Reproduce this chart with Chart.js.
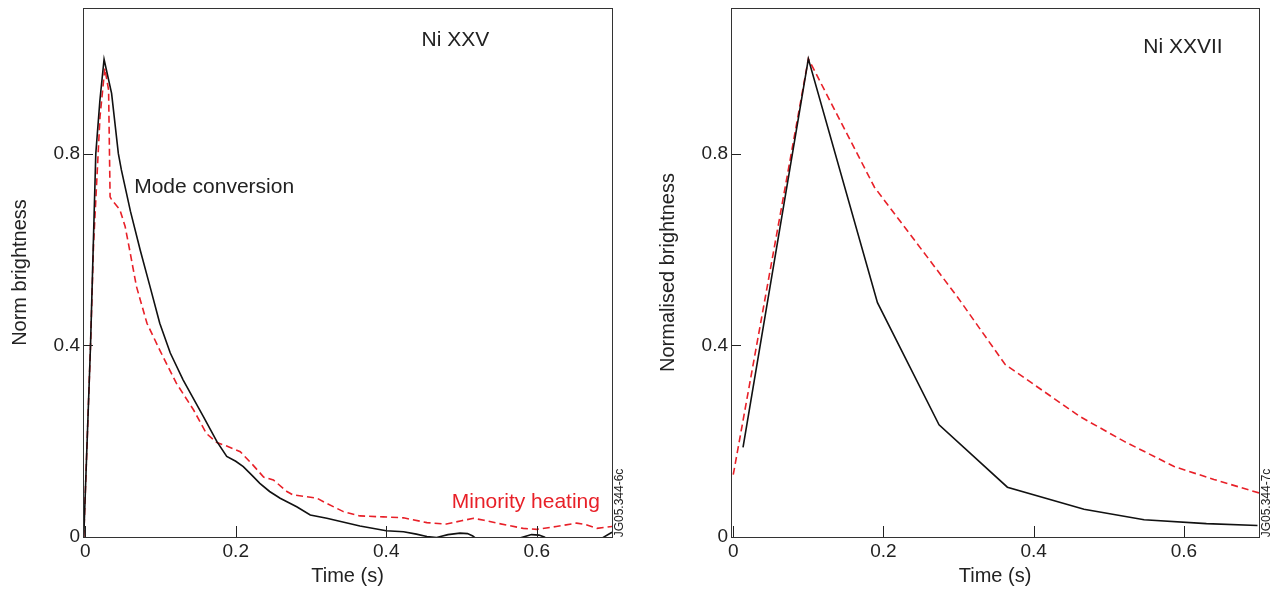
<!DOCTYPE html>
<html><head><meta charset="utf-8">
<script src="https://cdn.jsdelivr.net/npm/chart.js@4.4.0/dist/chart.umd.min.js"></script>
<style>
html,body{margin:0;padding:0;background:#fff;overflow:hidden;width:1284px;height:593px;}
#wrapL{position:absolute;left:0;top:0;width:650px;height:593px;}
#wrapR{position:absolute;left:650px;top:0;width:634px;height:593px;}
canvas{display:block;}
</style></head><body>
<div id="wrapL"><canvas id="cL" width="650" height="593"></canvas></div>
<div id="wrapR"><canvas id="cR" width="634" height="593"></canvas></div>
<script>
// ---- data ----
const xTicks = [0, 0.2, 0.4, 0.6];
const yTicks = [0, 0.4, 0.8];
const xTitle = 'Time (s)';
const leftYTitle = 'Norm brightness';
const rightYTitle = 'Normalised brightness';

// Left panel (Ni XXV)
const leftMcT = [-0.002, 0.007, 0.014, 0.0195, 0.025, 0.035, 0.044, 0.048, 0.060, 0.073, 0.086, 0.099, 0.113, 0.130, 0.157, 0.175, 0.188, 0.200, 0.210, 0.222, 0.232, 0.245, 0.259, 0.270, 0.281, 0.299, 0.321, 0.365, 0.400, 0.423, 0.440, 0.454, 0.467, 0.482, 0.498, 0.508, 0.515, 0.525, 0.560, 0.582, 0.593, 0.603, 0.610, 0.620, 0.685, 0.700];
const leftMcV = [0, 0.40, 0.80, 0.912, 0.997, 0.926, 0.80, 0.766, 0.680, 0.599, 0.523, 0.446, 0.384, 0.328, 0.251, 0.199, 0.168, 0.158, 0.147, 0.128, 0.112, 0.095, 0.081, 0.072, 0.063, 0.046, 0.039, 0.023, 0.013, 0.011, 0.006, 0.001, -0.001, 0.005, 0.008, 0.007, 0.002, -0.01, -0.01, 0.0, 0.005, 0.004, 0.0, -0.01, -0.004, 0.01];
const leftMhT = [-0.002, 0.007, 0.011, 0.0196, 0.026, 0.031, 0.033, 0.035, 0.046, 0.053, 0.059, 0.068, 0.082, 0.099, 0.121, 0.144, 0.161, 0.175, 0.188, 0.206, 0.223, 0.237, 0.250, 0.268, 0.276, 0.308, 0.321, 0.343, 0.365, 0.396, 0.423, 0.454, 0.480, 0.500, 0.516, 0.530, 0.547, 0.582, 0.600, 0.626, 0.653, 0.665, 0.680, 0.700];
const leftMhV = [0, 0.40, 0.61, 0.877, 0.978, 0.933, 0.71, 0.704, 0.683, 0.648, 0.599, 0.523, 0.446, 0.390, 0.321, 0.265, 0.216, 0.197, 0.190, 0.178, 0.150, 0.125, 0.119, 0.095, 0.088, 0.081, 0.070, 0.053, 0.044, 0.042, 0.040, 0.030, 0.027, 0.034, 0.039, 0.035, 0.029, 0.018, 0.016, 0.022, 0.029, 0.026, 0.018, 0.022];

// Right panel (Ni XXVII)
const rightMcT = [0.013, 0.100, 0.192, 0.274, 0.365, 0.467, 0.547, 0.630, 0.698];
const rightMcV = [0.187, 0.998, 0.489, 0.234, 0.104, 0.058, 0.036, 0.028, 0.024];
const rightMhT = [0, 0.100, 0.188, 0.298, 0.362, 0.462, 0.520, 0.587, 0.640, 0.700];
const rightMhV = [0.130, 0.998, 0.730, 0.502, 0.360, 0.251, 0.200, 0.147, 0.120, 0.092];

// ---- helpers ----
const FONT = "'Liberation Sans', Arial, Helvetica, sans-serif";
const RED = 'rgb(232,32,40)';
const BLACK = '#111';
const zip = (t, v) => t.map((x, i) => ({x: x, y: v[i]}));

const deco = {
  id: 'deco',
  afterDraw(chart, args, opts) {
    const {ctx, chartArea: a, scales: {x, y}} = chart;
    ctx.save();
    ctx.strokeStyle = '#222';
    ctx.lineWidth = 1;
    ctx.beginPath();
    xTicks.forEach(v => {
      const px = Math.round(x.getPixelForValue(v)) + 0.5;
      ctx.moveTo(px, a.bottom); ctx.lineTo(px, a.bottom - 11);
    });
    yTicks.forEach(v => {
      const py = Math.round(y.getPixelForValue(v)) + 0.5;
      ctx.moveTo(a.left, py); ctx.lineTo(a.left + 10, py);
    });
    ctx.stroke();
    ctx.strokeStyle = '#333';
    ctx.strokeRect(Math.round(a.left) + 0.5, Math.round(a.top) + 0.5, Math.round(a.right - a.left), Math.round(a.bottom - a.top));
    ctx.textBaseline = 'middle';
    ctx.textAlign = 'left';
    (opts.notes || []).forEach(n => {
      ctx.fillStyle = n.color;
      ctx.font = '21px ' + FONT;
      ctx.fillText(n.text, x.getPixelForValue(n.t), y.getPixelForValue(n.v));
    });
    if (opts.code) {
      ctx.translate(a.right + 8, a.bottom - 34);
      ctx.rotate(-Math.PI / 2);
      ctx.textAlign = 'center';
      ctx.fillStyle = '#222';
      ctx.font = '12px ' + FONT;
      ctx.fillText(opts.code, 0, 0);
    }
    ctx.restore();
  }
};

function makeChart(id, mc, mh, yTitle, yWidth, yTitlePad, padRight, notes, code) {
  const lineCommon = {pointRadius: 0, borderWidth: 1.6, fill: false, tension: 0};
  return new Chart(document.getElementById(id), {
    type: 'line',
    data: {
      datasets: [
        Object.assign({label: 'Mode conversion', data: mc, borderColor: BLACK}, lineCommon),
        Object.assign({label: 'Minority heating', data: mh, borderColor: RED, borderDash: [7, 4]}, lineCommon)
      ]
    },
    plugins: [deco],
    options: {
      responsive: false,
      animation: false,
      devicePixelRatio: 1,
      layout: {padding: {top: 8, right: padRight, left: 0, bottom: 0}},
      plugins: {
        legend: {display: false},
        tooltip: {enabled: false},
        deco: {notes: notes, code: code}
      },
      scales: {
        x: {
          type: 'linear', min: -0.003, max: 0.7,
          grid: {display: false, drawTicks: false},
          border: {display: false},
          afterBuildTicks: s => { s.ticks = xTicks.map(v => ({value: v})); },
          afterFit: s => { s.height = 56; s.paddingLeft = 0; s.paddingRight = 0; },
          ticks: {color: '#222', padding: 3, font: {family: FONT, size: 19}, callback: v => String(v)},
          title: {display: true, text: xTitle, color: '#222', font: {family: FONT, size: 20, lineHeight: 1.2}, padding: {top: 0, bottom: 5}}
        },
        y: {
          type: 'linear', min: 0, max: 1.104,
          grid: {display: false, drawTicks: false},
          border: {display: false},
          afterBuildTicks: s => { s.ticks = yTicks.map(v => ({value: v})); },
          afterFit: s => { s.width = yWidth; s.paddingTop = 0; s.paddingBottom = 0; },
          ticks: {color: '#222', padding: 3, font: {family: FONT, size: 19}, callback: v => String(v)},
          title: {display: true, text: yTitle, color: '#222', font: {family: FONT, size: 20, lineHeight: 1.2}, padding: {top: yTitlePad, bottom: 0}}
        }
      }
    }
  });
}

makeChart('cL', zip(leftMcT, leftMcV), zip(leftMhT, leftMhV), leftYTitle, 83, 8, 38,
  [
    {text: 'Ni XXV', t: 0.447, v: 1.037, color: '#222'},
    {text: 'Mode conversion', t: 0.065, v: 0.731, color: '#222'},
    {text: 'Minority heating', t: 0.487, v: 0.072, color: RED}
  ], 'JG05.344-6c');

makeChart('cR', zip(rightMcT, rightMcV), zip(rightMhT, rightMhV), rightYTitle, 81, 6, 25,
  [
    {text: 'Ni XXVII', t: 0.546, v: 1.023, color: '#222'}
  ], 'JG05.344-7c');
</script>
</body></html>
